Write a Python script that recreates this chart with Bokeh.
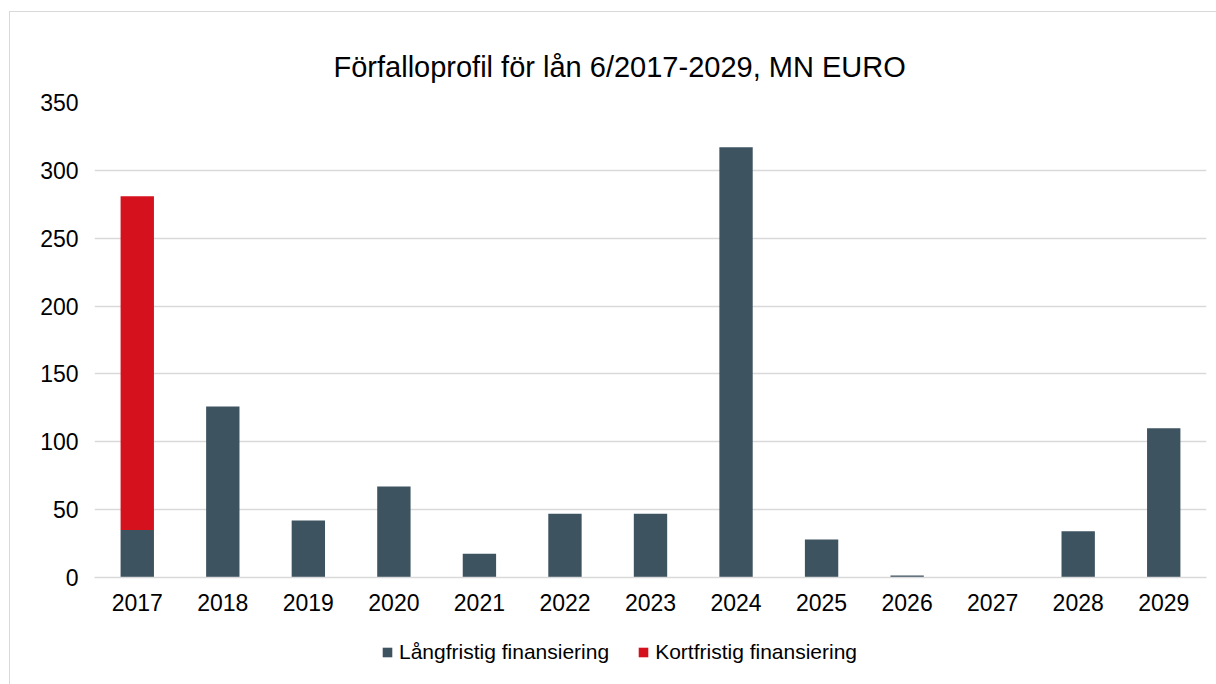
from bokeh.plotting import figure
from bokeh.models import ColumnDataSource, Legend, LegendItem, Range1d, FactorRange, SingleIntervalTicker
from bokeh.layouts import column
from bokeh.embed import file_html
from bokeh.resources import INLINE

years = ["2017", "2018", "2019", "2020", "2021", "2022", "2023",
         "2024", "2025", "2026", "2027", "2028", "2029"]
langfristig = [35, 126, 42, 67, 17.5, 47, 47, 317, 28, 1.5, 0, 34, 110]
kortfristig = [246, 0, 0, 0, 0, 0, 0, 0, 0, 0, 0, 0, 0]
series_names = ["Långfristig finansiering", "Kortfristig finansiering"]
colors = ["#3e5360", "#d5111e"]
title_text = "Förfalloprofil för lån 6/2017-2029, MN EURO"

src = ColumnDataSource(dict(year=years, lang=langfristig, kort=kortfristig))

FONT = "Liberation Sans"
W = 1206

p = figure(x_range=FactorRange(*years), y_range=Range1d(0, 350),
           width=W, height=618, output_backend="svg", toolbar_location=None,
           min_border_left=84, min_border_right=10, min_border_top=90, min_border_bottom=53)

renderers = p.vbar_stack(["lang", "kort"], x="year", width=0.39, source=src,
                         color=colors, line_color=None)

p.title.text = title_text
p.title.text_font = FONT
p.title.text_font_size = "29px"
p.title.text_font_style = "normal"
p.title.text_color = "#000000"
p.title.align = "left"
p.title.offset = 239
p.title.standoff = 40

p.outline_line_color = None
p.xgrid.grid_line_color = None
p.ygrid.grid_line_color = "#d9d9d9"
p.ygrid.grid_line_width = 1.5
p.yaxis.ticker = SingleIntervalTicker(interval=50)

for ax in (p.xaxis, p.yaxis):
    ax.axis_line_color = None
    ax.major_tick_line_color = None
    ax.minor_tick_line_color = None
    ax.major_tick_out = 0
    ax.major_tick_in = 0
    ax.major_label_text_font = FONT
    ax.major_label_text_font_size = "23px"
    ax.major_label_text_color = "#000000"
p.yaxis.major_label_standoff = 12
p.xaxis.major_label_standoff = 16
p.x_range.range_padding = 0

# zero line in grey like gridlines
p.xaxis.axis_line_color = "#d9d9d9"
p.xaxis.axis_line_width = 1.5

# legend strip below the chart (same data, drawn out of view so only the legend shows)
q = figure(x_range=p.x_range, y_range=Range1d(1000, 1001), width=W, height=54,
           output_backend="svg", toolbar_location=None,
           x_axis_type=None, y_axis_type=None,
           min_border_left=84, min_border_right=10, min_border_top=0, min_border_bottom=0)
q.outline_line_color = None
q.xgrid.grid_line_color = None
q.ygrid.grid_line_color = None
legend_renderers = q.vbar_stack(["lang", "kort"], x="year", width=0.39, source=src,
                                color=colors, line_color=None)

legend = Legend(items=[LegendItem(label=series_names[i], renderers=[legend_renderers[i]]) for i in range(2)],
                orientation="horizontal", location=(287, 20),
                label_text_font=FONT, label_text_font_size="21px", label_text_color="#000000",
                glyph_width=12, glyph_height=12, label_standoff=6, spacing=28,
                border_line_color=None, background_fill_alpha=0, padding=0, margin=0)
q.add_layout(legend, "center")

layout = column(p, q, spacing=0)
layout.styles = {"margin-left": "9px", "margin-top": "11px",
                 "border-top": "1px solid #d9d9d9", "border-left": "1px solid #d9d9d9"}

open("out.html", "w").write(file_html(layout, INLINE))
